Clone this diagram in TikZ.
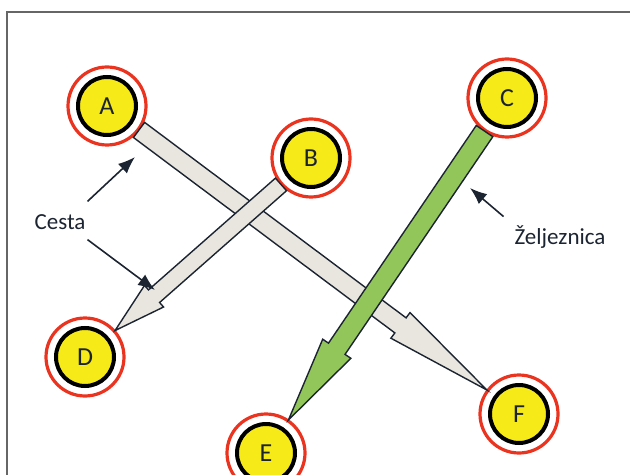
\documentclass[tikz,border=0pt]{standalone}
\usepackage{fontspec}
\setmainfont{Carlito}
\usepackage{tikz}
\usetikzlibrary{calc,arrows.meta}

\definecolor{stopyellow}{RGB}{246,234,24}
\definecolor{ringred}{RGB}{234,52,32}
\definecolor{roadgray}{RGB}{232,230,222}
\definecolor{railgreen}{RGB}{146,198,90}
\definecolor{inkblue}{RGB}{28,36,50}

% block arrow: from, to, half shaft, half head, head length, style
\newcommand{\blockarrow}[6]{%
  \coordinate (s) at ($(#1)!20pt!(#2)$);
  \coordinate (t) at ($(#2)!20pt!(#1)$);
  \coordinate (b) at ($(t)!#5!(s)$);
  \draw[#6] ($(s)!#3!90:(t)$) -- ($(b)!#3!-90:(s)$) -- ($(b)!#4!-90:(s)$)
    -- (t) -- ($(b)!#4!90:(s)$) -- ($(b)!#3!90:(s)$) -- ($(s)!#3!-90:(t)$) -- cycle;
}

\begin{document}
\begin{tikzpicture}[x=0.5pt,y=-0.5pt,
    stop/.style={circle, fill=stopyellow, draw=black, line width=2pt,
      minimum size=29pt, inner sep=0pt, text=inkblue,
      font=\fontsize{13}{15}\selectfont},
    ring/.style={draw=ringred, line width=1.6pt},
    road/.style={fill=roadgray, draw=inkblue, line width=0.7pt, line join=miter},
    rail/.style={fill=railgreen, draw=inkblue, line width=0.7pt, line join=miter},
    pointer/.style={draw=inkblue, line width=0.8pt, -{Latex[length=8.5pt,width=6.5pt]}},
    label/.style={text=inkblue, font=\fontsize{11.5}{14}\selectfont}]
      \useasboundingbox (0,0) rectangle (630,475);
      \draw[gray!80!black, line width=0.6pt] (7,500) |- (650,12);

      \node[stop] (A) at (107,106) {A};
      \node[stop] (B) at (311,158) {B};
      \node[stop] (C) at (507,98) {C};
      \node[stop] (D) at (85,357) {D};
      \node[stop] (E) at (266,453) {E};
      \node[stop] (F) at (519,414) {F};
      \foreach \n in {A,B,C,D,E,F}
        \draw[ring] (\n) circle[radius=19.5pt];

      \blockarrow{A}{F}{4.7pt}{8pt}{54pt}{road}
      \blockarrow{C}{E}{5pt}{8.5pt}{43pt}{rail}
      \blockarrow{B}{D}{4.2pt}{7.2pt}{26pt}{road}

      \node[label] (cesta) at (60,222) {Cesta};
      \node[label] (rail) at (560,237) {Željeznica};
      \coordinate (cestaA) at (135,157);
      \coordinate (cestaB) at (155,290);
      \coordinate (railC) at (470,188);
      \draw[pointer] ($(cesta.north east)+(-5,-6)$) -- (cestaA);
      \draw[pointer] ($(cesta.south east)+(-5,3)$) -- (cestaB);
      \draw[pointer] ($(rail.north west)+(-4,-2)$) -- (railC);
\end{tikzpicture}
\end{document}
